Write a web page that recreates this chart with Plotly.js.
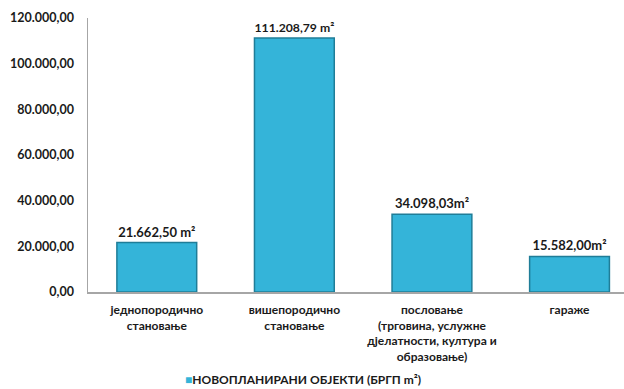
<!DOCTYPE html>
<html><head><meta charset="utf-8">
<script src="https://cdn.plot.ly/plotly-3.0.1.min.js"></script>
<style>html,body{margin:0;padding:0;background:#fff}#c{width:624px;height:389px}</style>
</head><body><div id="c"></div>
<script>
var categories = ["једнопородично<br>становање", "вишепородично<br>становање", "пословање<br>(трговина, услужне<br>дјелатности, култура и<br>образовање)", "гараже"];
var values = [21662.50, 111208.79, 34098.03, 15582.00];
var valueLabels = ["21.662,50 m²", "111.208,79 m²", "34.098,03m²", "15.582,00m²"];
var tickVals = [0, 20000, 40000, 60000, 80000, 100000, 120000];
var tickText = ["0,00", "20.000,00", "40.000,00", "60.000,00", "80.000,00", "100.000,00", "120.000,00"];
var seriesName = "НОВОПЛАНИРАНИ ОБЈЕКТИ (БРГП m²)";
var barColor = "#34b4d9";

var trace = {
  type: "bar",
  x: [0,1,2,3],
  y: values,
  name: seriesName,
  width: 0.58,
  text: valueLabels,
  textposition: "outside",
  cliponaxis: false,
  textfont: {family: "Lato, sans-serif", size: 13, color: "#1a1a1a", weight: "bold"},
  marker: {color: barColor, line: {color: "#1f7d98", width: 1.5}},
  showlegend: false
};
var layout = {
  width: 624, height: 389,
  margin: {l: 88, r: 0, t: 18, b: 97},
  paper_bgcolor: "#fff", plot_bgcolor: "#fff",
  font: {family: "Lato, sans-serif", size: 12, color: "#1a1a1a", weight: "bold"},
  xaxis: {
    range: [-0.5, 3.396], tickvals: [0,1,2,3], ticktext: categories,
    showgrid: false, zeroline: false, showline: true, linecolor: "#a6a6a6", linewidth: 1.5,
    ticks: "", ticklabelstandoff: 6, tickfont: {size: 12, weight: "bold"}, fixedrange: true
  },
  yaxis: {
    range: [0, 120000], tickvals: tickVals, ticktext: tickText,
    showgrid: false, zeroline: false, showline: true, linecolor: "#a6a6a6", linewidth: 1.5,
    ticks: "", ticklen: 0, ticklabelstandoff: 10, tickfont: {size: 12.5, weight: "bold"}, fixedrange: true
  },
  showlegend: false,
  annotations: [{
    xref: "paper", yref: "paper", x: 0.402, y: -0.318, xanchor: "center", yanchor: "middle",
    showarrow: false,
    text: "<span style='color:" + barColor + "'>■</span>" + seriesName,
    font: {size: 12, weight: "bold", color: "#1a1a1a"}
  }]
};
Plotly.newPlot("c", [trace], layout, {displayModeBar: false, staticPlot: true});
</script></body></html>
